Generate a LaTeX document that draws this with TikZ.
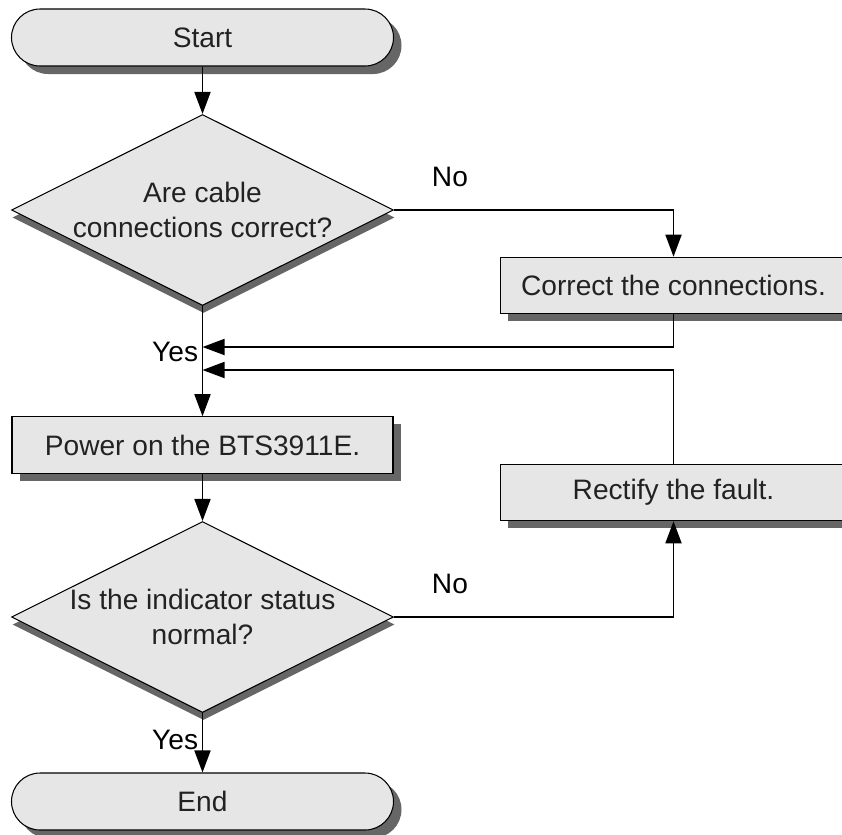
\documentclass[tikz,border=0pt]{standalone}
\usepackage{fontspec}
\setmainfont{Liberation Sans}
\usetikzlibrary{positioning,arrows.meta,shapes.geometric,shadows}
\definecolor{relleno}{HTML}{E6E6E6}
\definecolor{sombra}{HTML}{666666}
\definecolor{texto}{HTML}{222222}

\begin{document}
\begin{tikzpicture}[font=\fontsize{16}{19.5}\selectfont,
      term/.style={draw, fill=relleno, rounded corners=0.57cm, minimum width=7.64cm,
                   minimum height=1.14cm, text=texto, line width=0.6pt,
                   drop shadow={shadow xshift=0.16cm, shadow yshift=-0.16cm, fill=sombra, opacity=1}},
      proc/.style={draw, fill=relleno, minimum height=1.13cm, text=texto, line width=0.6pt,
                   drop shadow={shadow xshift=0.15cm, shadow yshift=-0.15cm, fill=sombra, opacity=1}},
      dec/.style={draw, fill=relleno, diamond, shape aspect=2, inner sep=0pt, minimum width=7.64cm,
                  minimum height=3.82cm, align=center, text=texto, line width=0.6pt,
                  drop shadow={shadow xshift=0.02cm, shadow yshift=-0.15cm, fill=sombra, opacity=1}},
      f/.style={-{Triangle[length=0.44cm, width=0.32cm]}, line width=1pt},
      ms/.style={text=black, inner sep=2pt}]

    \useasboundingbox (0,0) rectangle (16.84,-16.68);

    % --- columna principal ------------------------------------------------
    \node[term] (start) at (4.05,-0.75) {Start};
    \node[dec] (d1) at (4.05,-4.2) {Are cable\\connections correct?};
    \node[proc, minimum width=7.62cm] (power) at (4.05,-8.9) {Power on the BTS3911E.};
    \node[dec] (d2) at (4.05,-12.34) {Is the indicator status\\normal?};
    \node[term] (end) at (4.05,-16.03) {End};

    % --- columna derecha --------------------------------------------------
    \node[proc, minimum width=6.92cm] (corr) at (13.47,-5.71) {Correct the connections.};
    \node[proc, minimum width=6.92cm] (rect) at (13.47,-9.85) {Rectify the fault.};

    \coordinate (j1) at (4.05,-6.94);
    \coordinate (j2) at (4.05,-7.4);

    \draw[f] (start) -- (d1);
    \draw[f] (d1.east) -| node[ms, pos=0.1, above=0.38cm] (no1) {No} (corr.north);
    \draw[f] (corr.south) |- (j1);
    \draw[f] (d1.south) -- node[ms, pos=0.42, left] (yes1) {Yes} (power.north);
    \draw[f] (rect.north) |- (j2);
    \draw[f] (power) -- (d2);
    \draw[f] (d2.east) -| node[ms, pos=0.1, above=0.38cm] (no2) {No} (rect.south);
    \draw[f] (d2.south) -- node[ms, pos=0.45, left] (yes2) {Yes} (end.north);
  \end{tikzpicture}
\end{document}
